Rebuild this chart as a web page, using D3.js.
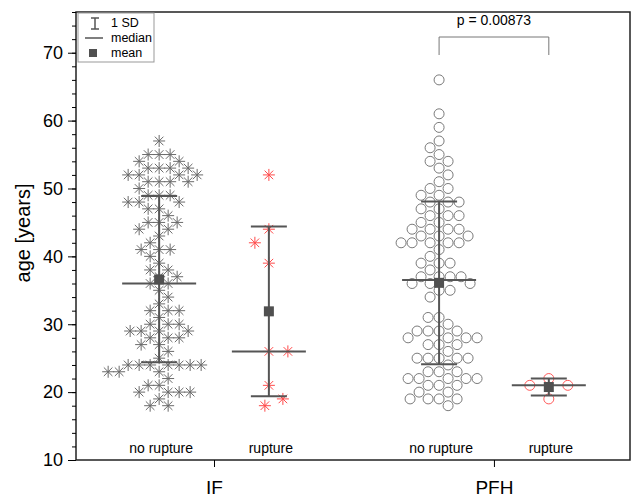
<!DOCTYPE html>
<html>
<head>
<meta charset="utf-8">
<script src="https://cdn.jsdelivr.net/npm/d3@7"></script>
<style>
  body { margin: 0; background: #fff; }
  svg { font-family: Arial, "Liberation Sans", sans-serif; }
</style>
</head>
<body>
<div id="chart"></div>
<script>
// categories
var groups = ["IF", "PFH"];
var subgroups = ["no rupture", "rupture"];

// ages, one list per box
var ifNoRupture = [57,55,55,55,54,54,53,53,53,53,52,52,52,52,51,51,51,51,50,49,49,49,48,48,48,47,47,46,
  45,45,45,44,44,43,42,41,41,41,40,39,38,38,37,37,36,36,35,34,33,32,32,32,31,30,30,30,29,29,29,29,
  28,28,28,27,27,26,25,24,24,24,24,24,24,24,23,23,23,22,21,21,20,20,20,20,19,18,18];
var ifRupture = [52,44,42,39,26,26,21,19,18];
var pfhNoRupture = [66,61,59,57,56,55,54,54,53,52,51,50,50,49,49,48,48,48,47,47,46,46,46,45,45,44,44,44,44,
  43,43,43,42,42,42,42,42,41,40,39,39,39,38,37,37,37,37,36,36,36,35,35,34,31,31,30,29,29,29,29,
  28,28,28,28,27,27,27,26,25,25,25,25,25,24,23,23,23,22,22,22,22,22,21,21,21,20,20,19,19,19,19,18];
var pfhRupture = [22,21,21,19];

// summary marks as drawn in the picture (IF/no, IF/rup, PFH/no, PFH/rup)
var statMean   = [36.6, 31.9, 36.1, 20.75];
var statMedian = [36, 26, 36.5, 21];
var statSdLow  = [24.4, 19.4, 24.1, 19.5];
var statSdHigh = [48.9, 44.4, 48.1, 22.0];

var yMajor = [10, 20, 30, 40, 50, 60, 70];
var pLabel = "p = 0.00873";

var series = [
  {g: 1, s: -1, values: ifNoRupture, shape: "star", color: "#6a6a6a", gap: 11},
  {g: 1, s:  1, values: ifRupture, shape: "star", color: "#ff4a4a", gap: 19},
  {g: 2, s: -1, values: pfhNoRupture, shape: "circle", color: "#7a7a7a", gap: 11},
  {g: 2, s:  1, values: pfhRupture, shape: "circle", color: "#ff5a5a", gap: 20}
];

var W = 634, H = 497;
var margin = {top: 12, right: 4, bottom: 37, left: 76},
    width = W - margin.left - margin.right,
    height = H - margin.top - margin.bottom;

var svg = d3.select("#chart").append("svg")
    .attr("width", W)
    .attr("height", H)
  .append("g")
    .attr("transform", "translate(" + margin.left + "," + margin.top + ")");

var x = d3.scaleLinear().domain([0.507, 2.486]).range([0, width]);
var y = d3.scaleLinear().domain([10, 76]).range([height, 0]);
var subOffset = 0.196;

function cx(d) { return x(d.g + d.s * subOffset); }

// simple beeswarm so the points spread sideways without overlapping too much
function swarm(vals, dist) {
  var placed = [], out = new Array(vals.length);
  var order = vals.map(function(v, i) { return i; })
    .sort(function(a, b) { return vals[b] - vals[a]; });
  order.forEach(function(i, n) {
    var py = y(vals[i]);
    var sign = n % 2 ? 1 : -1;
    for (var k = 0; ; k++) {
      var off = (k % 2 ? sign : -sign) * Math.ceil(k / 2);
      var hit = placed.some(function(p) {
        var dx = p.x - off, dy = p.y - py;
        return dx * dx + dy * dy < dist * dist;
      });
      if (!hit) { placed.push({x: off, y: py}); out[i] = off; break; }
    }
  });
  return out;
}

var starPath = "M-6,0H6M0,-6V6M-4.3,-4.3L4.3,4.3M-4.3,4.3L4.3,-4.3";

series.forEach(function(se) {
  var offs = swarm(se.values, se.gap);
  var pts = se.values.map(function(v, i) { return {v: v, dx: offs[i]}; });
  var g = svg.append("g");
  if (se.shape === "star") {
    g.selectAll("path")
        .data(pts)
      .enter().append("path")
        .attr("d", starPath)
        .attr("transform", function(d) {
          return "translate(" + (cx(se) + d.dx) + "," + y(d.v) + ")";
        })
        .attr("fill", "none")
        .attr("stroke", se.color)
        .attr("stroke-width", 1);
  } else {
    g.selectAll("circle")
        .data(pts)
      .enter().append("circle")
        .attr("cx", function(d) { return cx(se) + d.dx; })
        .attr("cy", function(d) { return y(d.v); })
        .attr("r", 5)
        .attr("fill", "none")
        .attr("stroke", se.color)
        .attr("stroke-width", 1);
  }
});

// SD bars, median lines and mean squares
var statG = svg.append("g").attr("stroke", "#555").attr("stroke-width", 2);
series.forEach(function(se, i) {
  var c = cx(se);
  statG.append("line").attr("x1", c).attr("x2", c)
    .attr("y1", y(statSdHigh[i])).attr("y2", y(statSdLow[i]));
  [statSdHigh[i], statSdLow[i]].forEach(function(v) {
    statG.append("line").attr("x1", c - 18).attr("x2", c + 18)
      .attr("y1", y(v)).attr("y2", y(v));
  });
  statG.append("line").attr("x1", c - 37).attr("x2", c + 37)
    .attr("y1", y(statMedian[i])).attr("y2", y(statMedian[i]));
  svg.append("rect")
    .attr("x", c - 5).attr("y", y(statMean[i]) - 5)
    .attr("width", 10).attr("height", 10)
    .attr("fill", "#505050");
});

// subgroup labels
series.forEach(function(se) {
  svg.append("text")
    .attr("x", cx(se) + 2)
    .attr("y", height - 7)
    .attr("text-anchor", "middle")
    .style("font-size", "14px")
    .attr("fill", "#000")
    .text(subgroups[se.s < 0 ? 0 : 1]);
});

// frame
svg.append("rect")
  .attr("width", width).attr("height", height)
  .attr("fill", "none").attr("stroke", "#222").attr("stroke-width", 1.5);

// y axis: minor then major
svg.append("g")
  .call(d3.axisLeft(y).tickValues(d3.range(10, 77, 2)).tickSize(4).tickFormat(""))
  .call(function(g) { g.select(".domain").remove(); });
svg.append("g")
  .call(d3.axisLeft(y).tickValues(yMajor).tickSize(8).tickPadding(5))
  .call(function(g) {
    g.select(".domain").remove();
    g.selectAll("text").style("font-size", "18px").attr("fill", "#000");
  });

// x axis
svg.append("g")
  .attr("transform", "translate(0," + height + ")")
  .call(d3.axisBottom(x).tickValues([1, 2]).tickSize(7).tickPadding(14)
    .tickFormat(function(d) { return groups[d - 1]; }))
  .call(function(g) {
    g.select(".domain").remove();
    g.selectAll("text").style("font-size", "19px").attr("fill", "#000");
  });

// y axis title
svg.append("text")
  .attr("transform", "translate(" + (30 - margin.left) + "," + (233 - margin.top) + ") rotate(-90)")
  .attr("text-anchor", "middle")
  .style("font-size", "20px")
  .attr("fill", "#000")
  .text("age [years]");

// significance bracket
var bx1 = x(2 - subOffset), bx2 = x(2 + subOffset);
svg.append("path")
  .attr("d", "M" + bx1 + "," + (55 - margin.top) + "V" + (37 - margin.top) +
             "H" + bx2 + "V" + (55 - margin.top))
  .attr("fill", "none").attr("stroke", "#777").attr("stroke-width", 1);
svg.append("text")
  .attr("x", (bx1 + bx2) / 2)
  .attr("y", 25 - margin.top)
  .attr("text-anchor", "middle")
  .style("font-size", "14px")
  .attr("fill", "#000")
  .text(pLabel);

// legend
var lg = svg.append("g").attr("transform", "translate(2,1)");
lg.append("rect").attr("width", 76).attr("height", 49)
  .attr("fill", "#fff").attr("stroke", "#999");
lg.append("path").attr("d", "M13,5H21M17,5V16M13,16H21")
  .attr("stroke", "#555").attr("stroke-width", 1.5).attr("fill", "none");
lg.append("line").attr("x1", 7).attr("x2", 25).attr("y1", 25).attr("y2", 25)
  .attr("stroke", "#555").attr("stroke-width", 1.5);
lg.append("rect").attr("x", 11).attr("y", 36).attr("width", 8).attr("height", 8)
  .attr("fill", "#505050");
["1 SD", "median", "mean"].forEach(function(t, i) {
  lg.append("text").attr("x", 33).attr("y", 10 + i * 15).attr("dy", "0.35em")
    .style("font-size", "12.5px").attr("fill", "#000").text(t);
});
</script>
</body>
</html>
